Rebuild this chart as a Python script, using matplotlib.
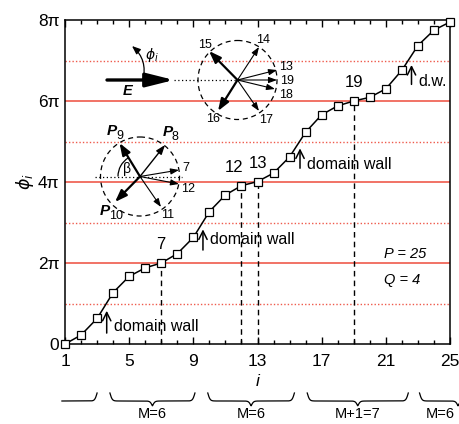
import numpy as np
import matplotlib
matplotlib.use("Agg")
import matplotlib.pyplot as plt
import matplotlib.transforms as mtransforms
from matplotlib.patches import Circle, Arc

plt.rcParams['font.family'] = ['Liberation Sans', 'DejaVu Sans']
plt.rcParams['mathtext.fontset'] = 'dejavusans'

# ---- data ----
sites = np.arange(1, 26)
phi_over_pi = [0.0, 0.22, 0.63, 1.27, 1.67, 1.88, 2.0, 2.23, 2.63, 3.27, 3.68, 3.91, 4.01,
               4.22, 4.62, 5.23, 5.66, 5.88, 6.0, 6.09, 6.3, 6.76, 7.37, 7.75, 7.95]
marked_sites = [7, 12, 13, 19]
marked_dx = [-0.05, -0.45, 0.05, 0.0]       # label shift in sites
wall_x = [3.6, 9.6, 15.65, 22.6]
wall_tail = [0.27, 2.32, 4.34, 6.41]       # in units of pi
wall_head = [0.82, 2.83, 4.83, 6.89]
wall_text = ['domain wall', 'domain wall', 'domain wall', 'd.w.']
wall_text_y = [0.44, 2.57, 4.44, 6.49]
brace_ranges = [(3.8, 9.1), (9.9, 15.3), (16.1, 22.4), (23.1, 27.9)]
brace_labels = ['M=6', 'M=6', 'M+1=7', 'M=6']
brace_label_x = [6.45, 12.6, 19.25, 24.4]

red = '#ef5a4c'
phi = np.array(phi_over_pi) * np.pi

fig = plt.figure(figsize=(4.59, 4.24), dpi=100)
ax = fig.add_axes([65/459, 1-344/424, 385/459, 324/424])

# red guide lines
for k in [2, 4, 6]:
    ax.axhline(k*np.pi, color=red, lw=1.2, zorder=1)
for k in [1, 3, 5, 7]:
    ax.axhline(k*np.pi, color=red, lw=1.0, ls=(0, (1, 1.5)), zorder=1)

ax.plot(sites, phi, color='black', lw=1.1, zorder=3)
ax.plot(sites, phi, ls='none', marker='s', ms=5.5, mfc='white', mec='black',
        mew=0.9, zorder=4, clip_on=False)

for s, dx in zip(marked_sites, marked_dx):
    ax.vlines(s, 0, phi[s-1], colors='black', lw=1.0, ls=(0, (4, 3)), zorder=2)
    ax.annotate(str(s), (s + dx, phi[s-1]), xytext=(0, 13), textcoords='offset points',
                ha='center', va='center', fontsize=12)

for x, t, h, txt, ty in zip(wall_x, wall_tail, wall_head, wall_text, wall_text_y):
    ax.annotate('', xy=(x, h*np.pi), xytext=(x, t*np.pi),
                arrowprops=dict(arrowstyle='->,head_length=0.5,head_width=0.25', lw=1.1,
                                color='black', shrinkA=0, shrinkB=0, mutation_scale=12))
    ax.text(x + 0.45, ty*np.pi, txt, fontsize=11.5, va='center', ha='left')

ax.text(20.9, 2.22*np.pi, 'P = 25', fontsize=10.5, style='italic', va='center')
ax.text(20.9, 1.58*np.pi, 'Q = 4', fontsize=10.5, style='italic', va='center')

ax.set_xlim(1, 25)
ax.set_ylim(0, 8*np.pi)
ax.set_xticks(range(1, 26, 4))
ax.set_xticks(range(1, 26), minor=True)
ax.set_yticks([k*np.pi for k in range(0, 9, 2)])
ax.set_yticklabels(['0', '2π', '4π', '6π', '8π'])
ax.tick_params(axis='x', which='both', direction='in', top=True, labelsize=12.5, pad=7, width=1)
ax.tick_params(axis='x', which='major', length=5)
ax.tick_params(axis='x', which='minor', length=3)
ax.tick_params(axis='y', length=0, labelsize=12.5, pad=4)
for sp in ax.spines.values():
    sp.set_linewidth(1.1)
ax.set_xlabel('i', style='italic', fontsize=12.5, labelpad=4)
ax.set_ylabel(r'$\phi_i$', fontsize=12.5, labelpad=1)

# braces below the axis
trans = mtransforms.blended_transform_factory(ax.transData, fig.transFigure)
def brace(a, b, beta=14.0):
    mid = 0.5*(a + b)
    xs = np.linspace(a, b, 400)
    xl = np.minimum(xs, a + b - xs)
    s1 = 2*(1/(1 + np.exp(-beta*(xl - a))) - 0.5)
    s2 = 2/(1 + np.exp(-beta*(xl - mid)))
    ypx = 393 + 8*s1 + 5*s2
    return xs, (424 - ypx)/424

for (a, b), lab, lx in zip(brace_ranges, brace_labels, brace_label_x):
    xs, ys = brace(a, b)
    ax.plot(xs, ys, color='black', lw=0.9, transform=trans, clip_on=False)
    ax.text(lx, (424 - 407)/424, lab, transform=trans, ha='center', va='top',
            fontsize=10.5, clip_on=False)
# cut brace on the left
xs, ys = brace(-2.5, 3.0)
keep = xs >= 0.8
ax.plot(xs[keep], ys[keep], color='black', lw=0.9, transform=trans, clip_on=False)

# ---- schematic insets (figure pixel coordinates) ----
ov = fig.add_axes([0, 0, 1, 1], zorder=5)
ov.set_xlim(0, 459)
ov.set_ylim(424, 0)
ov.axis('off')

def arrow(p0, p1, lw=0.8, ms=9):
    ov.annotate('', xy=p1, xytext=p0,
                arrowprops=dict(arrowstyle='-|>,head_length=0.55,head_width=0.2', lw=lw,
                                color='black', shrinkA=0, shrinkB=0, mutation_scale=ms))

# E field and phi_i
ov.annotate('', xy=(174, 80), xytext=(107, 80),
            arrowprops=dict(arrowstyle='-|>,head_length=0.6,head_width=0.15', lw=2.4,
                            color='black', shrinkA=0, shrinkB=0, mutation_scale=28))
ov.plot([174, 237], [80, 80], color='black', lw=0.9, ls=(0, (1, 2)))
ov.text(128, 91, 'E', fontsize=10.5, fontweight='bold', style='italic', ha='center', va='center')
ov.annotate('', xy=(132, 46), xytext=(143, 80),
            arrowprops=dict(arrowstyle='-|>,head_length=0.5,head_width=0.2', lw=0.9,
                            color='black', shrinkA=0, shrinkB=0, mutation_scale=10,
                            connectionstyle='arc3,rad=0.3'))
ov.text(145, 55, r'$\phi_i$', fontsize=10, ha='left', va='center')

# circle 2 (sites 13-19)
c2 = (237.5, 80)
ov.add_patch(Circle(c2, 39.5, fill=False, ls=(0, (4, 3)), lw=0.9, color='black'))
thin2 = {'14': ((259, 47), (263, 40)), '17': ((259, 111), (266, 120)),
         '13': ((277, 70), (279, 67)), '19': ((277, 80), (280, 81)),
         '18': ((275, 89), (279, 95))}
for lab, (tip, tp) in thin2.items():
    arrow(c2, tip, lw=0.8, ms=9)
    ov.text(tp[0], tp[1], lab, fontsize=9, ha='center' if lab in ('14', '17') else 'left',
            va='center')
arrow(c2, (209, 51), lw=1.6, ms=13)
arrow(c2, (218, 111), lw=1.6, ms=13)
ov.text(205, 45, '15', fontsize=9, ha='center', va='center')
ov.text(213, 119, '16', fontsize=9, ha='center', va='center')

# circle 1 (sites 7-12)
c1 = (140, 176.5)
ov.add_patch(Circle(c1, 39.5, fill=False, ls=(0, (4, 3)), lw=0.9, color='black'))
ov.plot([95, 182], [176.5, 176.5], color='black', lw=0.9, ls=(0, (1, 2)))
arrow(c1, (119.5, 143), lw=1.6, ms=13)
arrow(c1, (115, 202), lw=1.6, ms=13)
arrow(c1, (165, 145), lw=1.0, ms=10)
arrow(c1, (179, 170), lw=0.8, ms=9)
arrow(c1, (179, 184), lw=0.8, ms=9)
arrow(c1, (161, 207), lw=0.8, ms=9)
ov.text(182, 168, '7', fontsize=9, ha='left', va='center')
ov.text(181, 189, '12', fontsize=9, ha='left', va='center')
ov.text(168, 215, '11', fontsize=9, ha='center', va='center')
ov.add_patch(Arc(c1, 44, 44, theta1=180, theta2=238, lw=0.9, color='black'))
ov.text(127, 169, 'β', fontsize=10, ha='center', va='center')
for (px, py), sub in [((112, 131), '9'), ((168, 132), '8'), ((105, 211), '10')]:
    ov.text(px, py, 'P', fontsize=11, fontweight='bold', style='italic', ha='center', va='center')
    ov.text(px + 4, py + 5, sub, fontsize=9, ha='left', va='center')

fig.savefig('out.png', dpi=100)
